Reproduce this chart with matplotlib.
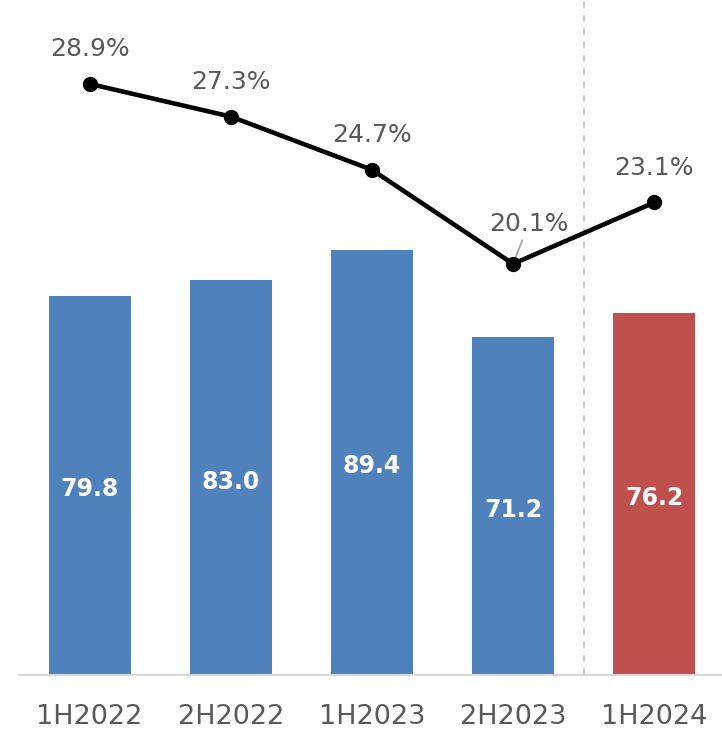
import matplotlib.pyplot as plt

# Chart data
periods = ["1H2022", "2H2022", "1H2023", "2H2023", "1H2024"]
values = [79.8, 83.0, 89.4, 71.2, 76.2]
margins = [28.9, 27.3, 24.7, 20.1, 23.1]
bar_colors = ["#4F81BD", "#4F81BD", "#4F81BD", "#4F81BD", "#C0504D"]

text_gray = "#595959"
plt.rcParams['font.family'] = ['DejaVu Sans']

fig = plt.figure(figsize=(7.22, 7.32), dpi=100)
ax = fig.add_axes([19 / 722, 57 / 732, 703 / 722, 675 / 732])
x = list(range(len(periods)))

ax.bar(x, values, width=0.58, color=bar_colors, zorder=2)
for xi, v in zip(x, values):
    ax.text(xi, v / 2 - 0.8, f"{v:.1f}", ha='center', va='center', color='white',
            fontsize=17, fontweight='bold')

ax.set_xlim(-0.5, 4.48)
ax.set_ylim(0, 142)
ax.set_yticks([])
ax.set_xticks(x)
ax.set_xticklabels(periods, fontsize=19.5, color=text_gray)
ax.tick_params(axis='x', length=0, pad=21)
for s in ['top', 'right', 'left']:
    ax.spines[s].set_visible(False)
ax.spines['bottom'].set_color('#D9D9D9')
ax.spines['bottom'].set_linewidth(1.5)

# separator before the latest period
ax.axvline(3.5, color='#BFBFBF', linestyle=(0, (4, 4)), linewidth=1.2, zorder=1)

# margin line on a second axis
ax2 = ax.twinx()
ax2.set_ylim(0, 33)
ax2.axis('off')
ax2.plot(x, margins, color='black', linewidth=3.3, marker='o', markersize=10, zorder=3)
for xi, m in zip(x, margins):
    if m == 20.1:
        ax2.annotate(f"{m:.1f}%", xy=(xi, m), xytext=(xi + 0.11, m + 1.95),
                     ha='center', va='center', fontsize=18, color=text_gray,
                     arrowprops=dict(arrowstyle='-', color='#A6A6A6', lw=1.3,
                                     shrinkA=1, shrinkB=3),
                     zorder=2)
    else:
        ax2.text(xi, m + 1.7, f"{m:.1f}%", ha='center', va='center',
                 fontsize=18, color=text_gray)

plt.savefig("out.png", dpi=100)
